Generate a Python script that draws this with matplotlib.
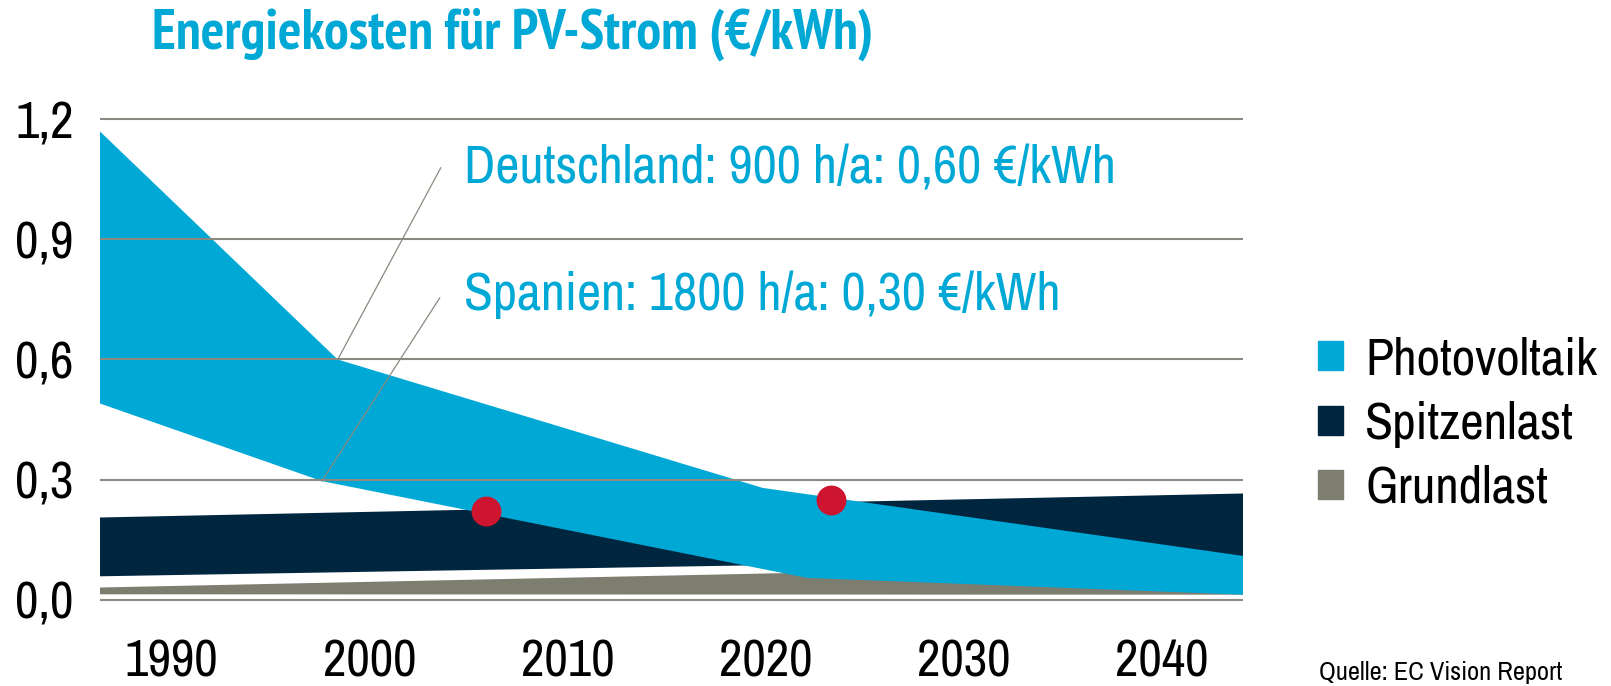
import numpy as np
import matplotlib.pyplot as plt
from matplotlib import font_manager
from matplotlib.patches import Patch

names = set(f.name for f in font_manager.fontManager.ttflist)

def pick(cands):
    for c in cands:
        if c in names:
            return c
    return 'DejaVu Sans'

fam = pick(['Liberation Sans Narrow', 'Arial Narrow', 'Nimbus Sans Narrow', 'Archivo Narrow',
            'Roboto Condensed', 'PT Sans Narrow'])
title_fam = pick(['PT Sans Narrow', 'Asap Condensed', 'Encode Sans Condensed', fam])
plt.rcParams['font.family'] = [fam, 'DejaVu Sans']

# data
pv_top_x = [1986.4, 1998.4, 2019.85, 2044.1]
pv_top_y = [1.17, 0.60, 0.279, 0.109]
pv_bot_x = [1986.4, 1997.6, 2022.1, 2044.1]
pv_bot_y = [0.49, 0.296, 0.054, 0.012]

spitze_x = [1986.4, 2044.1]
spitze_top = [0.205, 0.265]
spitze_bot = [0.058, 0.106]

grund_x = [1986.4, 2044.1]
grund_top = [0.03, 0.09]
grund_bot = [0.013, 0.012]

dots_x = [2005.9, 2023.3]
dots_y = [0.222, 0.249]

yticks = [0.0, 0.3, 0.6, 0.9, 1.2]
ytick_labels = ['0,0', '0,3', '0,6', '0,9', '1,2']
xticks = [1990, 2000, 2010, 2020, 2030, 2040]

legend_labels = ['Photovoltaik', 'Spitzenlast', 'Grundlast']

blue = '#00A8D6'
navy = '#00263F'
grey = '#7D7D70'
gridc = '#8A8A80'
red = '#CD1530'

fig = plt.figure(figsize=(16.11, 6.86), dpi=100)
ax = fig.add_axes([100/1611, (686-603.5)/686, 1143/1611, 488/686])
ax.set_xlim(1986.4, 2044.1)
ax.set_ylim(-0.01, 1.21)

ax.fill(grund_x + grund_x[::-1], grund_top + grund_bot[::-1], color=grey, lw=0, zorder=1)
ax.fill(spitze_x + spitze_x[::-1], spitze_top + spitze_bot[::-1], color=navy, lw=0, zorder=2)
ax.fill(pv_top_x + pv_bot_x[::-1], pv_top_y + pv_bot_y[::-1], color=blue, lw=0, zorder=3)

for v in yticks:
    ax.axhline(v, color=gridc, lw=1.5, zorder=4)

# annotation leader lines
ax.plot([pv_top_x[1], 2003.6], [pv_top_y[1], 1.079], color=gridc, lw=0.9, zorder=5)
ax.plot([pv_bot_x[1], 2003.55], [pv_bot_y[1], 0.754], color=gridc, lw=0.9, zorder=5)

ax.plot(dots_x, dots_y, 'o', color=red, ms=21.5, mec='none', zorder=6)

ax.text(2004.8, 1.041, 'Deutschland: 900 h/a: 0,60 €/kWh', color=blue, fontsize=38,
        va='baseline', ha='left')
ax.text(2004.8, 0.724, 'Spanien: 1800 h/a: 0,30 €/kWh', color=blue, fontsize=38,
        va='baseline', ha='left')

ax.set_yticks(yticks)
ax.set_yticklabels(ytick_labels)
ax.set_xticks(xticks)
ax.set_xticklabels([str(x) for x in xticks])
ax.tick_params(axis='y', length=0, pad=19, labelsize=37)
ax.tick_params(axis='x', length=0, pad=25, labelsize=37)
for s in ax.spines.values():
    s.set_visible(False)

fig.text(152/1611, 1 - 34/686, 'Energiekosten für PV-Strom (€/kWh)', color=blue,
         fontsize=40, fontweight='bold', va='center', ha='left', family=[title_fam, 'DejaVu Sans'])

handles = [Patch(color=blue), Patch(color=navy), Patch(color=grey)]
fig.legend(handles, legend_labels, loc='center left', bbox_to_anchor=(1318/1611, 1 - 424/686),
           frameon=False, fontsize=37, handlelength=0.49, handleheight=0.49,
           handletextpad=0.43, labelspacing=0.34, borderpad=0, borderaxespad=0)

fig.text(1319/1611, 1 - 672/686, 'Quelle: EC Vision Report', fontsize=19, va='center', ha='left')

plt.savefig('out.png', dpi=100)
